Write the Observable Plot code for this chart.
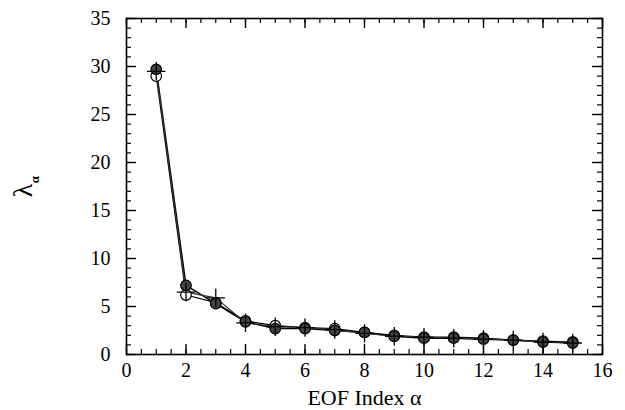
<!DOCTYPE html>
<html><head><meta charset="utf-8">
<script src="https://cdn.jsdelivr.net/npm/d3@7"></script>
<script src="https://cdn.jsdelivr.net/npm/@observablehq/plot@0.6"></script>
<style>body{margin:0;background:#fff}</style>
</head><body><div id="chart"></div>
<script>
const eofIndex = [1,2,3,4,5,6,7,8,9,10,11,12,13,14,15];
const seriesFilled = [29.7,7.2,5.3,3.4,2.7,2.7,2.5,2.3,1.9,1.7,1.7,1.6,1.5,1.3,1.2];
const seriesOpen   = [29.0,6.2,5.4,3.5,3.0,2.8,2.7,2.3,2.0,1.8,1.8,1.7,1.5,1.4,1.3];
const seriesPlus   = [29.5,6.5,5.9,3.3,2.9,2.8,2.6,2.2,1.9,1.8,1.7,1.6,1.5,1.3,1.2];
const xMajor = [0,2,4,6,8,10,12,14,16];
const xMinor = d3.range(0, 16.01, 0.5);
const yMajor = [0,5,10,15,20,25,30,35];
const yMinor = d3.range(0, 35.01, 1);
const xLabel = ["EOF Index α"];
const yLabelMain = ["λ"];
const yLabelSub = ["α"];

const W = 625, H = 410, mL = 126, mR = 23, mT = 18, mB = 56;
const iw = W - mL - mR, ih = H - mT - mB;

const rows = (vals, s) => eofIndex.map((x, i) => ({x, y: vals[i], s}));
const A = rows(seriesFilled, "filled"), B = rows(seriesOpen, "open"), C = rows(seriesPlus, "plus");

const chart = Plot.plot({
  width: W, height: H, marginLeft: mL, marginRight: mR, marginTop: mT, marginBottom: mB,
  style: "font-family: 'Liberation Serif', serif; font-size: 20px; color: #000; background: #fff;",
  x: {domain: [0, 16]},
  y: {domain: [0, 35]},
  marks: [
    Plot.frame({stroke: "#000", strokeWidth: 1.6}),
    Plot.axisX({ticks: xMajor, tickSize: 0, tickPadding: 8, label: null, fontSize: 20, fill: "#000"}),
    Plot.axisY({ticks: yMajor, tickSize: 0, tickPadding: 16, label: null, fontSize: 20, fill: "#000"}),
    Plot.tickX(xMinor, {x: d => d, insetTop: ih - 5, stroke: "#000", strokeWidth: 1.2}),
    Plot.tickX(xMinor, {x: d => d, insetBottom: ih - 5, stroke: "#000", strokeWidth: 1.2}),
    Plot.tickX(xMajor, {x: d => d, insetTop: ih - 10, stroke: "#000", strokeWidth: 1.4}),
    Plot.tickX(xMajor, {x: d => d, insetBottom: ih - 10, stroke: "#000", strokeWidth: 1.4}),
    Plot.tickY(yMinor, {y: d => d, insetRight: iw - 5, stroke: "#000", strokeWidth: 1.2}),
    Plot.tickY(yMinor, {y: d => d, insetLeft: iw - 5, stroke: "#000", strokeWidth: 1.2}),
    Plot.tickY(yMajor, {y: d => d, insetRight: iw - 10, stroke: "#000", strokeWidth: 1.4}),
    Plot.tickY(yMajor, {y: d => d, insetLeft: iw - 10, stroke: "#000", strokeWidth: 1.4}),
    Plot.line(A, {x: "x", y: "y", stroke: "#000", strokeWidth: 1.5}),
    Plot.line(B, {x: "x", y: "y", stroke: "#000", strokeWidth: 1.2}),
    Plot.line(C, {x: "x", y: "y", stroke: "#333", strokeWidth: 1.2}),
    Plot.dot(B, {x: "x", y: "y", r: 5.3, fill: "#fff", stroke: "#000", strokeWidth: 1.2}),
    Plot.dot(A, {x: "x", y: "y", r: 5.3, fill: "#444", stroke: "#000", strokeWidth: 1.2}),
    Plot.dot(C, {x: "x", y: "y", symbol: "plus", r: 6, stroke: "#000", strokeWidth: 1.3}),
    Plot.text(xLabel, {text: d => d, frameAnchor: "bottom", dy: 43.5, textAnchor: "middle", lineAnchor: "middle", fontSize: 22, fill: "#000"}),
    Plot.text(yLabelMain, {text: d => d, frameAnchor: "left", dx: -103, dy: 4, rotate: -90, textAnchor: "middle", lineAnchor: "middle", fontSize: 28, fill: "#000"}),
    Plot.text(yLabelSub, {text: d => d, frameAnchor: "left", dx: -92, dy: -7, rotate: -90, textAnchor: "middle", lineAnchor: "middle", fontSize: 13, fontWeight: "bold", fill: "#000"})
  ]
});
document.getElementById("chart").append(chart);
</script>
</body></html>
